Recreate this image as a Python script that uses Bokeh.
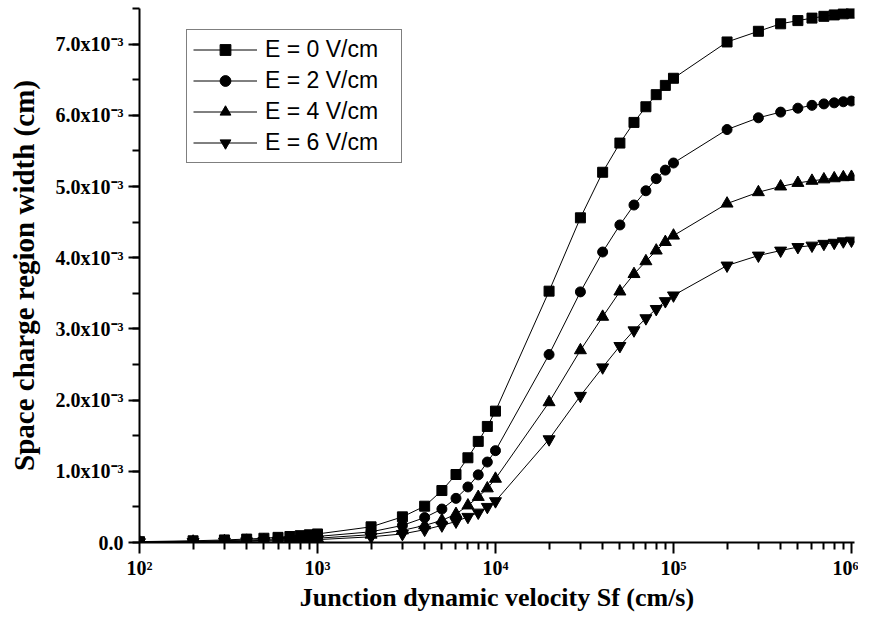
from bokeh.plotting import figure
from bokeh.models import (FixedTicker, CustomJSTickFormatter, Legend, LegendItem, Range1d)
from bokeh.embed import file_html
from bokeh.resources import INLINE

# Junction dynamic velocity Sf (cm/s)
sf = [1e2, 2e2, 3e2, 4e2, 5e2, 6e2, 7e2, 8e2, 9e2,
      1e3, 2e3, 3e3, 4e3, 5e3, 6e3, 7e3, 8e3, 9e3,
      1e4, 2e4, 3e4, 4e4, 5e4, 6e4, 7e4, 8e4, 9e4,
      1e5, 2e5, 3e5, 4e5, 5e5, 6e5, 7e5, 8e5, 9e5, 1e6]

# Space charge region width, in units of 1e-3 cm
w_e0 = [0.012, 0.024, 0.036, 0.048, 0.060, 0.072, 0.084, 0.096, 0.108,
        0.12, 0.22, 0.36, 0.51, 0.73, 0.955, 1.19, 1.42, 1.63,
        1.845, 3.53, 4.56, 5.20, 5.61, 5.90, 6.12, 6.29, 6.42,
        6.52, 7.03, 7.18, 7.285, 7.33, 7.365, 7.39, 7.41, 7.425, 7.435]
w_e2 = [0.0085, 0.017, 0.0255, 0.034, 0.0425, 0.051, 0.0595, 0.068, 0.0765,
        0.085, 0.15, 0.24, 0.35, 0.47, 0.62, 0.78, 0.95, 1.13,
        1.29, 2.64, 3.52, 4.08, 4.46, 4.74, 4.94, 5.11, 5.23,
        5.33, 5.80, 5.965, 6.045, 6.10, 6.14, 6.16, 6.175, 6.19, 6.20]
w_e4 = [0.006, 0.012, 0.018, 0.024, 0.030, 0.036, 0.042, 0.048, 0.054,
        0.06, 0.11, 0.17, 0.24, 0.31, 0.40, 0.52, 0.64, 0.76,
        0.895, 1.97, 2.70, 3.17, 3.525, 3.77, 3.95, 4.10, 4.22,
        4.31, 4.76, 4.92, 5.00, 5.05, 5.08, 5.10, 5.115, 5.13, 5.135]
w_e6 = [0.004, 0.008, 0.012, 0.016, 0.020, 0.024, 0.028, 0.032, 0.036,
        0.04, 0.08, 0.12, 0.18, 0.24, 0.295, 0.36, 0.42, 0.50,
        0.58, 1.45, 2.06, 2.46, 2.76, 2.98, 3.15, 3.28, 3.39,
        3.47, 3.89, 4.03, 4.10, 4.15, 4.17, 4.195, 4.21, 4.23, 4.24]
UNIT = 1e-3

labels = ["E = 0 V/cm", "E = 2 V/cm", "E = 4 V/cm", "E = 6 V/cm"]
markers = ["square", "circle", "triangle", "inverted_triangle"]
sizes = [10, 10, 12, 12]

x_ticks = [1e2, 1e3, 1e4, 1e5, 1e6]
x_minor = [m * d for d in [1e2, 1e3, 1e4, 1e5] for m in range(2, 10)]
y_ticks = [i * 1e-3 for i in range(0, 8)]
y_minor = [i * 0.5e-3 for i in range(0, 16)]

p = figure(width=858, height=616, x_axis_type="log",
           x_range=Range1d(100, 1.04e6), y_range=Range1d(0, 7.5e-3),
           output_backend="svg", toolbar_location=None,
           min_border_left=139, min_border_right=4, min_border_top=8,
           min_border_bottom=74)
p.outline_line_color = None
p.xgrid.visible = False
p.ygrid.visible = False

series = [w_e0, w_e2, w_e4, w_e6]
items = []
for vals, lab, mk, sz in zip(series, labels, markers, sizes):
    ys = [v * UNIT for v in vals]
    ln = p.line(sf, ys, line_color="black", line_width=1)
    sc = p.scatter(sf, ys, marker=mk, size=sz, fill_color="black", line_color="black")
    items.append(LegendItem(label=lab, renderers=[ln, sc]))

legend = Legend(items=items, location=(47, 379), glyph_width=64, glyph_height=27,
                label_height=27, label_width=130, spacing=4, padding=6, margin=0,
                label_text_font="Liberation Sans", label_text_font_size="23px",
                label_text_color="black",
                label_standoff=8, border_line_color="black", border_line_width=1,
                background_fill_alpha=1.0)
p.add_layout(legend)

serif = "Liberation Serif"
for ax in (p.xaxis[0], p.yaxis[0]):
    ax.axis_line_width = 2
    ax.axis_line_color = "black"
    ax.major_tick_line_color = "black"
    ax.minor_tick_line_color = "black"
    ax.major_tick_line_width = 2
    ax.minor_tick_line_width = 2
    ax.major_tick_in = 0
    ax.minor_tick_in = 0
    ax.major_tick_out = 11
    ax.minor_tick_out = 7
    ax.major_label_text_font = serif
    ax.major_label_text_font_style = "bold"
    ax.major_label_text_font_size = "20px"
    ax.major_label_text_color = "black"
    ax.axis_label_text_font = serif
    ax.axis_label_text_font_style = "bold"
    ax.axis_label_text_color = "black"

p.xaxis.axis_label_text_font_size = "26px"
p.yaxis.axis_label_text_font_size = "29px"
p.xaxis.ticker = FixedTicker(ticks=x_ticks, minor_ticks=x_minor)
p.yaxis.ticker = FixedTicker(ticks=y_ticks, minor_ticks=y_minor)
p.xaxis.formatter = CustomJSTickFormatter(code="""
const e = Math.round(Math.log10(tick));
const sup = {2: "\u00b2", 3: "\u00b3", 4: "\u2074", 5: "\u2075", 6: "\u2076"};
return "10" + sup[e];
""")
p.yaxis.formatter = CustomJSTickFormatter(code="""
if (Math.abs(tick) < 1e-9) return "0.0";
return (tick * 1000).toFixed(1) + "x10\u207b\u00b3";
""")
p.xaxis.axis_label = "Junction dynamic velocity Sf (cm/s)"
p.yaxis.axis_label = "Space charge region width (cm)"
p.xaxis.major_label_standoff = 3
p.yaxis.major_label_standoff = 5
p.xaxis.axis_label_standoff = 1
p.yaxis.axis_label_standoff = 13

open("out.html", "w").write(file_html(p, INLINE))
